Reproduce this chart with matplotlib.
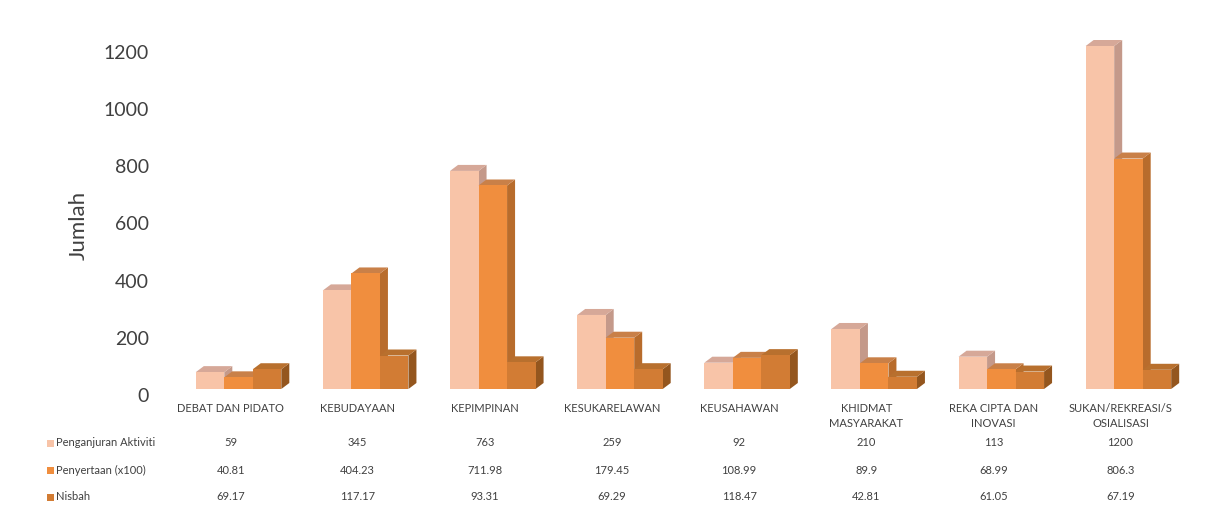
import matplotlib
matplotlib.use("Agg")
import matplotlib.pyplot as plt
from matplotlib.patches import Polygon, Rectangle
import matplotlib.transforms as mtransforms

categories = ["DEBAT DAN PIDATO", "KEBUDAYAAN", "KEPIMPINAN", "KESUKARELAWAN",
              "KEUSAHAWAN", "KHIDMAT\nMASYARAKAT", "REKA CIPTA DAN\nINOVASI",
              "SUKAN/REKREASI/S\nOSIALISASI"]
series_names = ["Penganjuran Aktiviti", "Penyertaan (x100)", "Nisbah"]
penganjuran = [59, 345, 763, 259, 92, 210, 113, 1200]
penyertaan = [40.81, 404.23, 711.98, 179.45, 108.99, 89.9, 68.99, 806.3]
nisbah = [69.17, 117.17, 93.31, 69.29, 118.47, 42.81, 61.05, 67.19]
table_text = [
    ["59", "345", "763", "259", "92", "210", "113", "1200"],
    ["40.81", "404.23", "711.98", "179.45", "108.99", "89.9", "68.99", "806.3"],
    ["69.17", "117.17", "93.31", "69.29", "118.47", "42.81", "61.05", "67.19"],
]
yticks = [0, 200, 400, 600, 800, 1000, 1200]

front = ["#F8C4A8", "#F08E3E", "#D27C34"]
top = ["#D6A898", "#C98048", "#B8702E"]
side = ["#C4998A", "#B86C2C", "#94561E"]

plt.rcParams['font.family'] = ['Lato', 'DejaVu Sans']

W, H = 1208, 513
fig = plt.figure(figsize=(W / 100, H / 100), dpi=100)
left_px, right_px = 167, 1184
bot_px, top_px = 389, 46
ax = fig.add_axes([left_px / W, 1 - bot_px / H, (right_px - left_px) / W, (bot_px - top_px) / H])
ax.set_xlim(0, len(categories))
ax.set_ylim(0, 1200)
for s in ax.spines.values():
    s.set_visible(False)
ax.set_xticks([])
ax.set_yticks(yticks)
ax.tick_params(axis='y', length=0, pad=13, labelsize=14, labelcolor="#404040")
offset = mtransforms.ScaledTranslation(0, -6 / 100, fig.dpi_scale_trans)
for lab in ax.get_yticklabels():
    lab.set_transform(lab.get_transform() + offset)
ax.set_ylabel("Jumlah", fontsize=16, color="#404040")
ax.yaxis.set_label_coords((89 - left_px) / (right_px - left_px), (bot_px - 225) / (bot_px - top_px))

ppu_x = (right_px - left_px) / len(categories)
ppu_y = (bot_px - top_px) / 1200.0
dx = 8 / ppu_x
dy = 6 / ppu_y
bw = 28.5 / ppu_x
group_shift = 8 / ppu_x

series = [penganjuran, penyertaan, nisbah]
for i in range(len(categories)):
    x_start = i + 0.5 + group_shift - 1.5 * bw
    for k, vals in enumerate(series):
        h = vals[i]
        x0 = x_start + k * bw
        x1 = x0 + bw
        ax.add_patch(Polygon([(x1, 0), (x1 + dx, dy), (x1 + dx, h + dy), (x1, h)],
                             closed=True, facecolor=side[k], edgecolor='none', clip_on=False))
        ax.add_patch(Polygon([(x0, h), (x0 + dx, h + dy), (x1 + dx, h + dy), (x1, h)],
                             closed=True, facecolor=top[k], edgecolor='none', clip_on=False))
        ax.add_patch(Rectangle((x0, 0), bw, h, facecolor=front[k], edgecolor='none', clip_on=False))

# category labels and data table
trans = mtransforms.blended_transform_factory(ax.transData, fig.transFigure)
for i, c in enumerate(categories):
    ax.text(i + 0.5, 1 - 403 / H, c, transform=trans, ha='center', va='top',
            fontsize=8, color="#404040", linespacing=1.45)
row_y = [443, 470, 497]
for r, name in enumerate(series_names):
    yy = 1 - row_y[r] / H
    for i in range(len(categories)):
        ax.text(i + 0.5, yy, table_text[r][i], transform=trans, ha='center', va='center',
                fontsize=8, color="#404040")
    fig.patches.append(Rectangle((47 / W, yy - 3.5 / H), 7 / W, 7 / H, transform=fig.transFigure,
                                 facecolor=front[r], edgecolor='none'))
    fig.text(56 / W, yy, name, ha='left', va='center', fontsize=8, color="#404040")

fig.savefig("out.png", dpi=100, facecolor="white")
